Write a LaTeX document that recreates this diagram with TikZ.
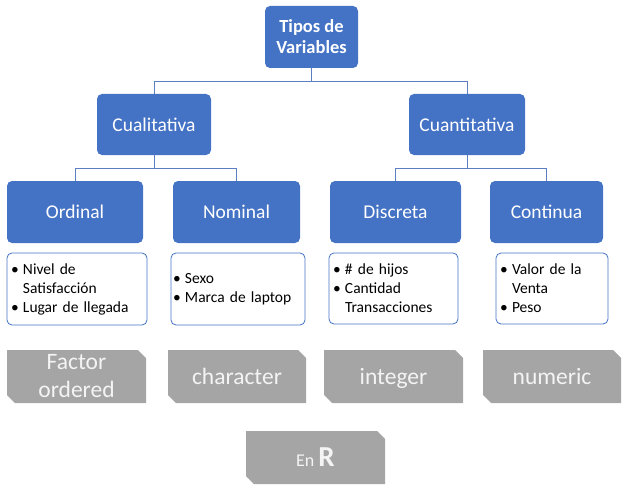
\documentclass[tikz,border=0pt]{standalone}
\usepackage{fontspec}
\setmainfont{Carlito}
\usetikzlibrary{shapes.misc}
\definecolor{boxblue}{HTML}{4472C4}
\definecolor{lineblue}{HTML}{5B7FC0}
\definecolor{boxgrey}{HTML}{A5A5A5}
\definecolor{greytext}{HTML}{F4F4F4}
\newcommand{\bul}{\makebox[12pt][l]{•}}
\newcommand{\ind}{\hspace*{12pt}}
\begin{document}
\begin{tikzpicture}[x=1pt,y=-1pt,
  bluebox/.style={draw=none,fill=boxblue,rounded corners=5pt,text=white,inner sep=0pt,align=center,
    font=\fontsize{19.5}{22}\selectfont},
  listbox/.style={draw=boxblue,line width=0.8pt,fill=white,rounded corners=5pt,inner xsep=4pt,inner ysep=0pt,
    align=left,font=\fontsize{15.5}{19}\selectfont},
  greybox/.style={chamfered rectangle,chamfered rectangle corners={north east,south west},
    chamfered rectangle xsep=4pt,chamfered rectangle ysep=4pt,fill=boxgrey,draw=none,text=greytext,inner sep=0pt,
    align=center,font=\fontsize{23.5}{28}\selectfont},
  oneline/.style={text height=18pt,text depth=3pt},
  conn/.style={draw=lineblue,line width=1pt}]
\useasboundingbox (0,0) rectangle (635,495);

\node[bluebox,minimum width=93pt,minimum height=62pt,font=\fontsize{18.5}{21}\selectfont\bfseries] (top) at (311.5,37) {Tipos de\\Variables};
\node[bluebox,minimum width=114pt,minimum height=61pt] (cual) at (154,124.5) {Cualitativa};
\node[bluebox,minimum width=116pt,minimum height=61pt] (cuan) at (467,124.5) {Cuantitativa};

\node[bluebox,minimum width=136pt,minimum height=62pt] (ord) at (75,212) {Ordinal};
\node[bluebox,minimum width=127pt,minimum height=62pt] (nom) at (236.5,212) {Nominal};
\node[bluebox,minimum width=131pt,minimum height=62pt] (dis) at (395.5,212) {Discreta};
\node[bluebox,minimum width=113pt,minimum height=62pt] (con) at (546.5,212) {Continua};

\node[listbox,text width=132pt,minimum height=72pt] (lord) at (77,289) {\bul Nivel de\\\ind Satisfacción\\\bul Lugar de llegada};
\node[listbox,inner xsep=2pt,text width=130pt,minimum height=72pt] (lnom) at (238,289) {\bul Sexo\\\bul Marca de laptop};
\node[listbox,text width=121pt,minimum height=71pt] (ldis) at (393.5,288.5) {\bul \# de hijos\\\bul Cantidad\\\ind Transacciones};
\node[listbox,text width=104pt,minimum height=71pt] (lcon) at (552,288.5) {\bul Valor de la\\\ind Venta\\\bul Peso};

\node[greybox,minimum width=139pt,minimum height=53pt] (gord) at (76.5,376.5) {Factor\\ordered};
\node[greybox,oneline,minimum width=138pt,minimum height=53pt] (gnom) at (237,376.5) {character};
\node[greybox,oneline,minimum width=139pt,minimum height=53pt] (gdis) at (393.5,376.5) {integer};
\node[greybox,oneline,minimum width=138pt,minimum height=53pt] (gcon) at (552,376.5) {numeric};
\node[greybox,minimum width=139pt,minimum height=53pt] (enr) at (315.5,457.5) {{\fontsize{18}{20}\selectfont En }{\fontsize{29}{29}\selectfont\bfseries R}};

\draw[conn] (top.south) -- ++(0,13) -| (cual.north);
\draw[conn] (top.south) -- ++(0,13) -| (cuan.north);
\draw[conn] (cual.south) -- ++(0,13) -| (ord.north);
\draw[conn] (cual.south) -- ++(0,13) -| (nom.north);
\draw[conn] (cuan.south) -- ++(0,13) -| (dis.north);
\draw[conn] (cuan.south) -- ++(0,13) -| (con.north);
\end{tikzpicture}
\end{document}
